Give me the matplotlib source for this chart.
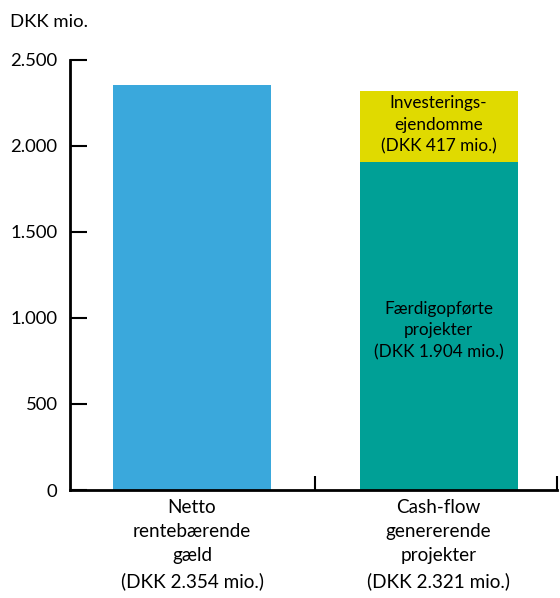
import matplotlib
matplotlib.use("Agg")
import matplotlib.pyplot as plt
from matplotlib.ticker import FuncFormatter

plt.rcParams['font.family'] = ['Lato', 'DejaVu Sans']

categories = ["Netto\nrentebærende\ngæld\n(DKK 2.354 mio.)",
              "Cash-flow\ngenererende\nprojekter\n(DKK 2.321 mio.)"]
gaeld = [2354]
faerdig = [1904]
invest = [417]
yticks = [0, 500, 1000, 1500, 2000, 2500]

fig = plt.figure(figsize=(5.6, 5.98), dpi=100)
ax = fig.add_axes([0.125, 0.1806, 0.8696, 0.7191])

w = 0.64
ax.bar([0], gaeld, width=w, color="#3AA8DC")
ax.bar([1], faerdig, width=w, color="#00A096")
ax.bar([1], invest, width=w, bottom=faerdig, color="#E0DA00")

ax.text(1, faerdig[0] / 2 - 25, "Færdigopførte\nprojekter\n(DKK 1.904 mio.)",
        ha="center", va="center", fontsize=12.3, linespacing=1.45)
ax.text(1, faerdig[0] + invest[0] / 2 + 10, "Investerings-\nejendomme\n(DKK 417 mio.)",
        ha="center", va="center", fontsize=12.3, linespacing=1.45)

ax.set_xlim(-0.495, 1.48)
ax.set_ylim(0, 2500)
ax.set_yticks(yticks)
ax.yaxis.set_major_formatter(FuncFormatter(lambda v, p: f"{int(v):,}".replace(",", ".")))
ax.set_xticks([0.5, 1.48])
ax.set_xticklabels([])
ax.tick_params(axis="both", direction="in", length=12, width=1.5, labelsize=13.3)
ax.tick_params(axis="y", pad=9)
ax.tick_params(axis="x", length=10)

for s in ["top", "right"]:
    ax.spines[s].set_visible(False)
for s in ["left", "bottom"]:
    ax.spines[s].set_linewidth(2)

for i, lab in enumerate(categories):
    ax.text(i, -55, lab, ha="center", va="top", fontsize=13.6, linespacing=1.5)

fig.text(10 / 560, 1 - 22 / 598, "DKK mio.", fontsize=13.3, va="center", ha="left")

fig.savefig("out.png", dpi=100)
